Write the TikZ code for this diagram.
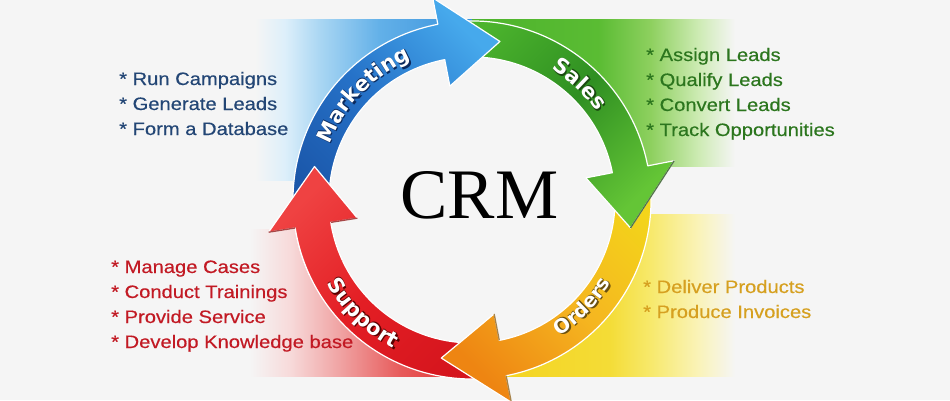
\documentclass[tikz,border=0pt]{standalone}
\usepackage{fontspec}
\setmainfont{Liberation Serif}
\newfontfamily\lstfont[FakeStretch=1.12,FakeBold=0.4]{Liberation Sans}
\newfontfamily\lblfont{DejaVu Sans}
\usetikzlibrary{decorations.text}

\definecolor{bgc}{HTML}{F5F5F5}
% panels
\definecolor{bpA}{HTML}{DDEFFA}\definecolor{bpB}{HTML}{A9D6F3}\definecolor{bpC}{HTML}{62B0E8}\definecolor{bpD}{HTML}{3A92DC}
\definecolor{gpA}{HTML}{4DB32C}\definecolor{gpB}{HTML}{5ABC33}\definecolor{gpC}{HTML}{8ED05F}\definecolor{gpD}{HTML}{CDEBB3}
\definecolor{ypA}{HTML}{F4D21C}\definecolor{ypB}{HTML}{F4DC36}\definecolor{ypC}{HTML}{F7E96C}\definecolor{ypD}{HTML}{FAF3B8}
\definecolor{rpA}{HTML}{F7DADA}\definecolor{rpB}{HTML}{F0A4A4}\definecolor{rpC}{HTML}{E75A5A}\definecolor{rpD}{HTML}{E23030}
% arrows
\definecolor{baT}{HTML}{46A9EC}\definecolor{baM}{HTML}{2672C8}\definecolor{baB}{HTML}{1B57AA}
\definecolor{gaT}{HTML}{4CB42D}\definecolor{gaM}{HTML}{2F8F22}\definecolor{gaB}{HTML}{64C536}
\definecolor{yaT}{HTML}{F3D51A}\definecolor{yaM}{HTML}{F5B620}\definecolor{yaB}{HTML}{EE8512}
\definecolor{raT}{HTML}{EF4242}\definecolor{raM}{HTML}{E31E24}\definecolor{raB}{HTML}{D5151D}
\definecolor{ordDark}{HTML}{8A5A10}\definecolor{redDark}{HTML}{8A0A0A}\definecolor{grnDark}{HTML}{1E4A12}
% label shadows
\definecolor{lbB}{HTML}{0B2A5E}\definecolor{lbG}{HTML}{1A4A10}\definecolor{lbY}{HTML}{6A5010}\definecolor{lbR}{HTML}{5A0000}
% list texts
\definecolor{mkttxt}{HTML}{234675}\definecolor{saltxt}{HTML}{2C761E}\definecolor{ordtxt}{HTML}{D6A020}\definecolor{suptxt}{HTML}{C21A24}

\pgfdeclarehorizontalshading{bluepanel}{100bp}{color(0bp)=(bgc); color(25bp)=(bgc); color(31.9bp)=(bpA); color(40bp)=(bpB); color(53.8bp)=(bpC); color(75bp)=(bpD); color(100bp)=(bpD)}
\pgfdeclarehorizontalshading{greenpanel}{100bp}{color(0bp)=(gpA); color(25bp)=(gpA); color(49bp)=(gpB); color(59bp)=(gpC); color(68bp)=(gpD); color(75bp)=(bgc); color(100bp)=(bgc)}
\pgfdeclarehorizontalshading{yellowpanel}{100bp}{color(0bp)=(ypA); color(25bp)=(ypA); color(51bp)=(ypB); color(59bp)=(ypC); color(68bp)=(ypD); color(75bp)=(bgc); color(100bp)=(bgc)}
\pgfdeclarehorizontalshading{redpanel}{100bp}{color(0bp)=(bgc); color(25bp)=(bgc); color(34bp)=(rpA); color(45bp)=(rpB); color(59bp)=(rpC); color(75bp)=(rpD); color(100bp)=(rpD)}

% arrow outline: tail angle, head back angle, tip angle
\newcommand\crmarrowpath[3]{(#1:179) arc[start angle=#1, end angle=#2, radius=179] -- (#2:206) -- (#3:161) -- (#2:116) -- (#2:143) arc[start angle=#2, end angle=#1, radius=143] -- cycle}

% label along arc: text, start, end, radius, shadow colour, size
\newcommand\crmlabel[6]{%
  \foreach \dx/\dy in {1.4/-1.4, 0.7/0.7}{%
    \path[xshift=\dx pt, yshift=\dy pt, decorate, decoration={text along path, text align=center,
      text={|\lblfont\bfseries\fontsize{#6}{#6}\selectfont\color{#5}|#1}}]
      (#2:#4) arc[start angle=#2, end angle=#3, radius=#4];}
  \path[decorate, decoration={text along path, text align=center,
      text={|\lblfont\bfseries\fontsize{#6}{#6}\selectfont\color{white}|#1}}]
      (#2:#4) arc[start angle=#2, end angle=#3, radius=#4];}

\begin{document}
\begin{tikzpicture}[x=1pt,y=1pt,
  lst/.style={anchor=base west, inner sep=0pt, font=\lstfont\fontsize{18}{22}\selectfont},
  arrowedge/.style={draw=white, line width=1.2pt, line join=round},
  darkedge/.style={line width=1.3pt, opacity=.75}]
\useasboundingbox (0,0) rectangle (950,400);
\fill[bgc] (0,0) rectangle (950,400);

% background panels
\shade[shading=bluepanel]   (255,220) rectangle (472,380);
\shade[shading=greenpanel]  (472,234) rectangle (735,380);
\shade[shading=yellowpanel] (472,24)  rectangle (735,186);
\shade[shading=redpanel]    (250,24)  rectangle (472,171);

\begin{scope}[shift={(472,200)}]
  \fill[bgc] (0,0) circle[radius=143];
  % Support (red)
  \path[arrowedge, top color=raT, bottom color=raB, middle color=raM, shading angle=45] \crmarrowpath{-79}{-171}{-192};
  % Orders (yellow / orange)
  \path[arrowedge, top color=yaT, bottom color=yaB, middle color=yaM, shading angle=-45] \crmarrowpath{11}{-79}{-101};
  \draw[darkedge, ordDark] (-79:206) -- (-79:179) (-79:143) -- (-79:116);
  % Sales (green)
  \path[arrowedge, top color=gaT, bottom color=gaB, middle color=gaM, shading angle=45] \crmarrowpath{101}{11}{-10};
  \draw[darkedge, grnDark] (11:206) -- (-10:161);
  % Marketing (blue)
  \path[arrowedge, top color=baT, bottom color=baB, middle color=baM, shading angle=-45] \crmarrowpath{189}{101}{80};
  % red head on top of the blue tail
  \begin{scope}
    \clip (0,0) -- (150:300) -- (180:320) -- (205:300) -- cycle;
    \path[arrowedge, top color=raT, bottom color=raB, middle color=raM, shading angle=45] \crmarrowpath{-79}{-171}{-192};
  \end{scope}
  \draw[darkedge, redDark] (-171:206) -- (-171:179) (-171:143) -- (-171:116);

  % ring labels
  \crmlabel{Marketing}{176}{96}{153}{lbB}{21}
  \crmlabel{Sales}{87}{7}{153}{lbG}{21}
  \crmlabel{Orders}{-84}{-4}{162}{lbY}{19.5}
  \crmlabel{Support}{186}{266}{168}{lbR}{21}
\end{scope}

\node[font=\fontsize{71}{71}\selectfont, anchor=base, inner sep=0pt] (crm) at (479.5,182) {CRM};

% Marketing list
\node[lst, text=mkttxt] (m1) at (119,315) {* Run Campaigns};
\node[lst, text=mkttxt] (m2) at (119,290) {* Generate Leads};
\node[lst, text=mkttxt] (m3) at (119,265) {* Form a Database};
% Sales list
\node[lst, text=saltxt] (s1) at (646,339) {* Assign Leads};
\node[lst, text=saltxt] (s2) at (646,314) {* Qualify Leads};
\node[lst, text=saltxt] (s3) at (646,289) {* Convert Leads};
\node[lst, text=saltxt] (s4) at (646,264) {* Track Opportunities};
% Orders list
\node[lst, text=ordtxt] (o1) at (643,107) {* Deliver Products};
\node[lst, text=ordtxt] (o2) at (643,82) {* Produce Invoices};
% Support list
\node[lst, text=suptxt] (p1) at (111,127) {* Manage Cases};
\node[lst, text=suptxt] (p2) at (111,102) {* Conduct Trainings};
\node[lst, text=suptxt] (p3) at (111,77) {* Provide Service};
\node[lst, text=suptxt] (p4) at (111,52) {* Develop Knowledge base};
\end{tikzpicture}
\end{document}
